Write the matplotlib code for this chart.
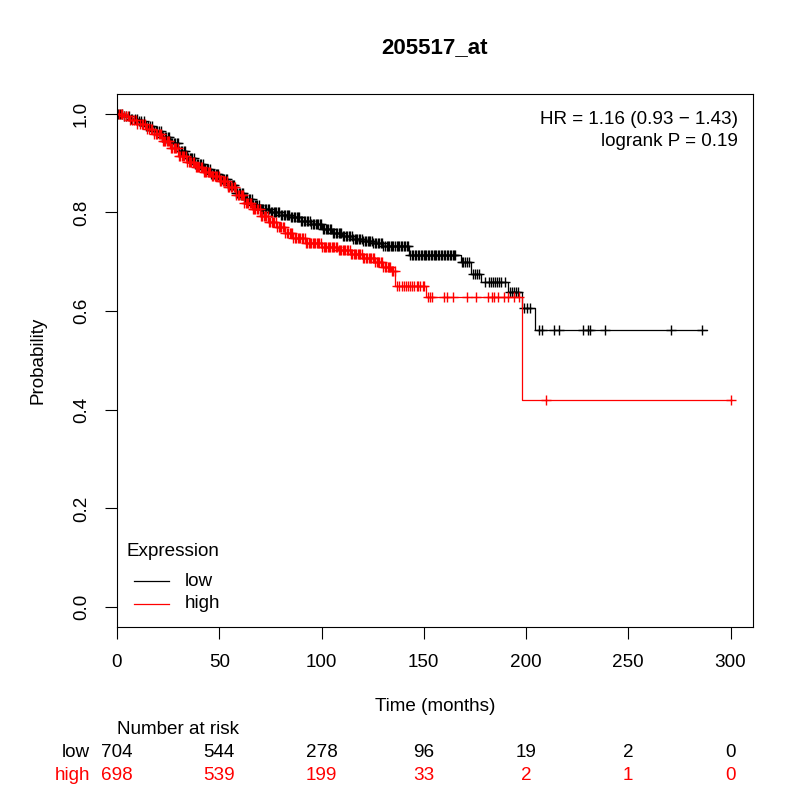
#!/usr/bin/env python3
# -*- coding: utf-8 -*-

"""Kaplan-Meier plot for 205517_at (low vs high expression) with risk table."""

import numpy as np
import matplotlib
matplotlib.use("Agg")
import matplotlib.pyplot as plt

plt.rcParams["font.family"] = ["Liberation Sans", "DejaVu Sans"]

title = "205517_at"

# step knots of the survival curves (time in months, survival probability)
low_t = [0, 3, 6, 10, 14, 18, 22, 26, 30, 34, 38, 42, 46, 50, 54, 58, 62, 66, 70,
         75, 80, 85, 90, 95, 100, 105, 110, 115, 120, 125, 130, 143, 168, 173,
         178, 191, 198, 204.6]
low_s = [1.0, 0.995, 0.99, 0.985, 0.975, 0.965, 0.952, 0.94, 0.925, 0.91, 0.898,
         0.888, 0.878, 0.868, 0.855, 0.84, 0.827, 0.815, 0.807, 0.80, 0.795, 0.79,
         0.783, 0.776, 0.766, 0.758, 0.752, 0.746, 0.742, 0.737, 0.732, 0.714,
         0.70, 0.676, 0.659, 0.638, 0.606, 0.561]

high_t = [0, 3, 6, 10, 14, 18, 22, 26, 30, 34, 38, 42, 46, 50, 54, 58, 62, 66, 70,
          74, 78, 82, 86, 92, 100, 108, 114, 120, 126, 130, 134, 136, 151, 198]
high_s = [1.0, 0.995, 0.988, 0.98, 0.97, 0.958, 0.945, 0.93, 0.915, 0.903, 0.893,
          0.882, 0.873, 0.864, 0.852, 0.836, 0.82, 0.806, 0.792, 0.78, 0.77, 0.758,
          0.748, 0.738, 0.73, 0.724, 0.716, 0.708, 0.70, 0.69, 0.682, 0.651, 0.628,
          0.419]

# censoring times
low_cens = [
    0.4, 1.3, 2.5, 3.6, 4.4, 5.7, 6.8, 7.5, 8.9, 9.8, 11.0, 11.9, 13.2, 14.1,
    15.3, 16.0, 17.2, 18.1, 19.0, 19.8, 20.5, 21.3, 22.0, 22.6, 23.4, 24.1, 24.9,
    25.5, 26.2, 27.0, 27.7, 28.3, 29.1, 29.8, 30.5, 31.2, 31.9, 32.7, 33.4, 34.0,
    34.8, 35.5, 36.1, 36.9, 37.6, 38.3, 39.0, 39.8, 40.4, 41.1, 41.9, 42.6, 43.2,
    44.0, 44.7, 45.3, 46.1, 46.8, 47.5, 48.2, 49.0, 49.6, 50.3, 51.1, 51.8, 52.4,
    53.2, 53.9, 54.5, 55.3, 56.0, 56.7, 57.4, 58.2, 58.8, 59.5, 60.3, 61.0, 61.6,
    62.4, 63.1, 63.7, 64.5, 65.2, 65.9, 66.6, 67.4, 68.0, 68.7, 69.5, 70.2, 70.8,
    71.6, 72.3, 72.9, 73.7, 74.4, 75.1, 75.8, 76.6, 77.2, 77.9, 78.7, 79.4, 80.0,
    80.8, 81.5, 82.1, 82.9, 83.6, 84.3, 85.0, 85.8, 86.4, 87.1, 87.9, 88.6, 89.2,
    90.0, 90.7, 91.3, 92.1, 92.8, 93.5, 94.2, 95.0, 95.6, 96.3, 97.1, 97.8, 98.4,
    99.2, 99.9, 100.5, 101.3, 102.0, 102.7, 103.4, 104.2, 104.8, 105.5, 106.3,
    107.0, 107.6, 108.4, 109.1, 109.7, 110.5, 111.2, 111.9, 112.6, 113.4, 114.0,
    114.7, 115.5, 116.2, 116.8, 117.6, 118.3, 118.9, 119.7, 120.4, 121.1, 121.8,
    122.6, 123.2, 123.9, 124.7, 125.4, 126.0, 126.8, 127.5, 128.1, 128.9, 129.6,
    130.3, 131.0, 131.8, 132.4, 133.1, 133.9, 134.6, 135.2, 136.0, 136.7, 137.3,
    138.1, 138.8, 139.5, 140.2, 141.0, 141.6, 142.3, 143.5, 144.2, 144.9, 145.7,
    146.4, 147.0, 147.8, 148.5, 149.1, 149.9, 150.6, 151.3, 152.0, 152.8, 153.4,
    154.1, 154.9, 155.6, 156.2, 157.0, 157.7, 158.4, 159.1, 159.9, 160.5, 161.2,
    162.0, 162.7, 163.3, 164.1, 164.8, 165.5, 168.5, 169.4, 170.2, 171.0, 172.0,
    174.0, 175.0, 176.0, 177.0, 180.0, 182.0, 183.0, 184.0, 185.0, 186.0, 187.0,
    188.0, 189.5, 192.0, 193.0, 194.0, 195.0, 196.0, 199.0, 200.5, 202.0, 206.2,
    207.9, 213.6, 216.1, 228.0, 230.2, 231.2, 238.4, 270.7, 286.0]
high_cens = [
    0.2, 0.9, 1.8, 2.6, 3.5, 4.3, 5.4, 6.2, 7.3, 8.1, 9.2, 10.0, 11.1, 12.0, 12.8,
    13.9, 14.7, 15.6, 16.4, 17.3, 18.1, 18.9, 19.6, 20.3, 21.0, 21.6, 22.3, 23.0,
    23.6, 24.3, 25.0, 25.6, 26.3, 27.0, 27.7, 28.3, 29.0, 29.7, 30.3, 31.0, 31.7,
    32.3, 33.0, 33.7, 34.3, 35.0, 35.7, 36.3, 37.0, 37.7, 38.4, 39.0, 39.7, 40.3,
    41.0, 41.7, 42.3, 43.0, 43.7, 44.4, 45.0, 45.7, 46.3, 47.0, 47.7, 48.4, 49.0,
    49.7, 50.3, 51.0, 51.7, 52.3, 53.0, 53.7, 54.4, 55.0, 55.7, 56.3, 57.0, 57.7,
    58.3, 59.0, 59.7, 60.4, 61.0, 61.7, 62.3, 63.0, 63.7, 64.3, 65.0, 65.7, 66.4,
    67.0, 67.7, 68.3, 69.0, 69.7, 70.3, 71.0, 71.7, 72.4, 73.0, 73.7, 74.3, 75.0,
    75.7, 76.3, 77.0, 77.7, 78.4, 79.0, 79.7, 80.3, 81.0, 81.7, 82.3, 83.0, 83.7,
    84.4, 85.0, 85.7, 86.3, 87.0, 87.7, 88.3, 89.0, 89.7, 90.4, 91.0, 91.7, 92.3,
    93.0, 93.7, 94.3, 95.0, 95.7, 96.4, 97.0, 97.7, 98.3, 99.0, 99.7, 100.3,
    101.0, 101.7, 102.4, 103.0, 103.7, 104.3, 105.0, 105.7, 106.3, 107.0, 107.7,
    108.4, 109.0, 109.7, 110.3, 111.0, 111.7, 112.3, 113.0, 113.7, 114.4, 115.0,
    115.7, 116.3, 117.0, 117.7, 118.3, 119.0, 119.7, 120.4, 121.0, 121.7, 122.3,
    123.0, 123.7, 124.3, 125.0, 125.7, 126.4, 127.0, 127.7, 128.3, 129.0, 129.7,
    130.3, 131.0, 131.7, 132.4, 133.0, 133.7, 134.3, 135.0, 135.7, 137.0, 138.0,
    139.5, 140.3, 141.5, 142.5, 143.5, 144.3, 145.0, 146.5, 147.3, 148.0, 149.5,
    150.3, 152.2, 153.2, 154.2, 160.0, 161.2, 164.5, 171.3, 175.7, 181.6, 183.5,
    184.5, 186.5, 189.0, 191.0, 194.0, 196.5, 210.0, 300.0]

low_end = 288.5
high_end = 300

risk_times = [0, 50, 100, 150, 200, 250, 300]
risk_low = [704, 544, 278, 96, 19, 2, 0]
risk_high = [698, 539, 199, 33, 2, 1, 0]

hr_text = "HR = 1.16 (0.93 \u2212 1.43)"
p_text = "logrank P = 0.19"

FS = 13.6


def step_at(kt, ks, t):
    idx = np.searchsorted(np.asarray(kt), np.asarray(t), side="right") - 1
    return np.asarray(ks)[idx]


fig = plt.figure(figsize=(8, 8), dpi=100)
ax = fig.add_axes([0.14625, 0.2166, 0.795, 0.6659])

for kt, ks, cens, end, col in [
    (low_t, low_s, low_cens, low_end, "black"),
    (high_t, high_s, high_cens, high_end, "red"),
]:
    xs = list(kt) + [end]
    ys = list(ks) + [ks[-1]]
    ax.plot(xs, ys, drawstyle="steps-post", color=col, lw=0.9)
    ax.plot(cens, step_at(kt, ks, cens), ls="none", marker="+", ms=7,
            mew=1.0, color=col)

ax.set_xlim(0, 311)
ax.set_ylim(-0.04, 1.04)
ax.set_xticks(risk_times)
ax.set_yticks([0, 0.2, 0.4, 0.6, 0.8, 1.0])
ax.set_yticklabels(["0.0", "0.2", "0.4", "0.6", "0.8", "1.0"], rotation=90,
                   va="center")
ax.tick_params(direction="out", length=8.4, width=0.8, labelsize=FS, pad=11)
for sp in ax.spines.values():
    sp.set_linewidth(0.8)

ax.text(0.977, 0.952, hr_text, transform=ax.transAxes, ha="right", va="center",
        fontsize=FS)
ax.text(0.977, 0.911, p_text, transform=ax.transAxes, ha="right", va="center",
        fontsize=FS)

fig.text(434 / 800, 1 - 47.8 / 800, title, ha="center", va="center",
         fontsize=16, fontweight="bold")
fig.text(38 / 800, 1 - 360 / 800, "Probability", rotation=90, ha="center",
         va="center", fontsize=FS)
fig.text(435 / 800, 1 - 706.7 / 800, "Time (months)", ha="center", va="center",
         fontsize=FS)

# legend
fig.text(127 / 800, 1 - 552 / 800, "Expression", ha="left", va="center",
         fontsize=FS)
for yy, lab, col in [(581, "low", "black"), (604, "high", "red")]:
    fig.add_artist(plt.Line2D([134 / 800, 169 / 800], [1 - yy / 800, 1 - yy / 800],
                              color=col, lw=0.9))
    fig.text(185 / 800, 1 - yy / 800, lab, ha="left", va="center", fontsize=FS)

# number at risk table
fig.text(117 / 800, 1 - 730 / 800, "Number at risk", ha="left", va="center",
         fontsize=FS)
for yy, lab, vals, col in [(752.7, "low", risk_low, "black"),
                           (776, "high", risk_high, "red")]:
    fig.text(90 / 800, 1 - yy / 800, lab, ha="right", va="center", fontsize=FS,
             color=col)
    for t, v in zip(risk_times, vals):
        xf = ax.transData.transform((t, 0))[0] / fig.bbox.width
        fig.text(xf, 1 - yy / 800, str(v), ha="center", va="center",
                 fontsize=FS, color=col)

fig.savefig("out.png", dpi=100)
